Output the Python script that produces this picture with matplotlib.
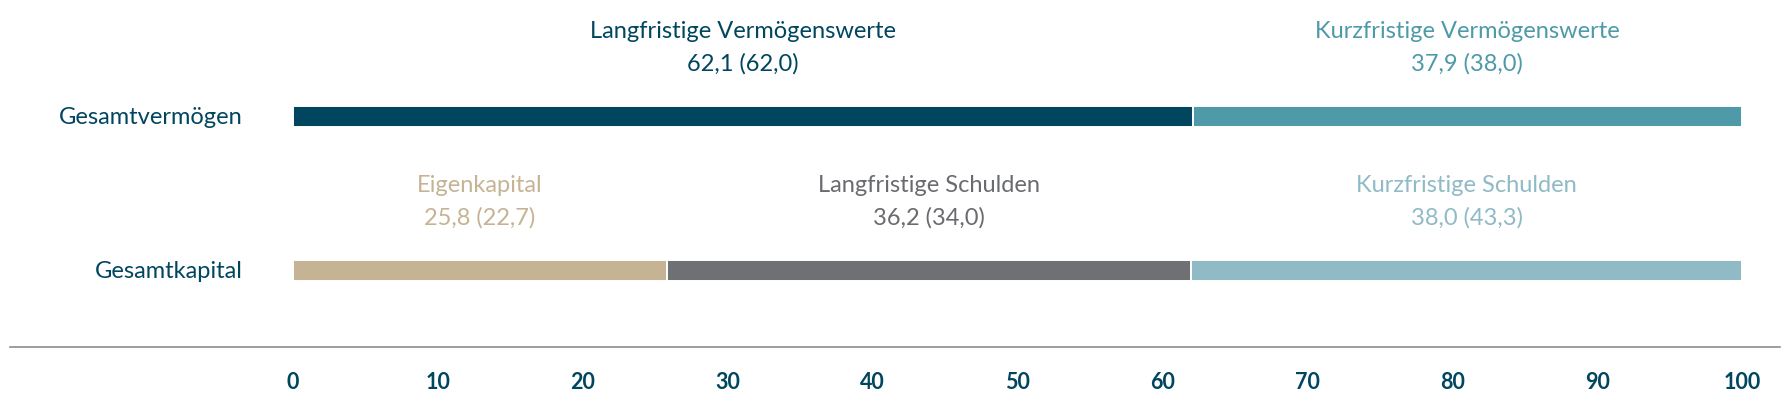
import matplotlib
matplotlib.use("Agg")
import matplotlib.pyplot as plt
from matplotlib.lines import Line2D

# Bilanzstruktur in Prozent (Vorjahr in Klammern)
rows = ["Gesamtvermögen", "Gesamtkapital"]

asset_labels = ["Langfristige Vermögenswerte", "Kurzfristige Vermögenswerte"]
asset_values = [62.1, 37.9]
asset_prev = [62.0, 38.0]

capital_labels = ["Eigenkapital", "Langfristige Schulden", "Kurzfristige Schulden"]
capital_values = [25.8, 36.2, 38.0]
capital_prev = [22.7, 34.0, 43.3]

x_ticks = [0, 10, 20, 30, 40, 50, 60, 70, 80, 90, 100]

NAVY = "#00465F"
asset_colors = ["#00465F", "#4E9AA8"]
capital_colors = ["#C5B394", "#6F7074", "#8FBAC6"]
capital_text_colors = ["#C5B394", "#6A6B6F", "#8FBAC6"]

plt.rcParams["font.family"] = ["Lato", "DejaVu Sans"]


def fmt(v):
    return f"{v:.1f}".replace(".", ",")


W, H = 1790, 410
fig = plt.figure(figsize=(W / 100, H / 100), dpi=100)
fig.patch.set_facecolor("white")

# axes from x=0 (px 293) to x=100 (px 1742), bottom at the axis line
ax = fig.add_axes([293 / W, (H - 348) / H, (1742 - 293) / W, 348 / H])
ax.set_xlim(0, 100)
ax.set_ylim(1.497, -0.763)


def draw_row(row, values, prev, labels, colors, text_colors):
    left = 0
    for val, pv, lab, col, tcol in zip(values, prev, labels, colors, text_colors):
        ax.barh(row, val, left=left, height=0.136, color=col,
                edgecolor="white", linewidth=1.4)
        cx = left + val / 2
        ax.text(cx, row - 0.513, lab, ha="center", va="baseline",
                fontsize=17, color=tcol)
        ax.text(cx, row - 0.305, f"{fmt(val)} ({fmt(pv)})", ha="center",
                va="baseline", fontsize=17, color=tcol)
        left += val


draw_row(0, asset_values, asset_prev, asset_labels, asset_colors, asset_colors)
draw_row(1, capital_values, capital_prev, capital_labels, capital_colors,
         capital_text_colors)

# row labels, right aligned left of the bars
for i, name in enumerate(rows):
    ax.text(-3.45, i, name, ha="right", va="center", fontsize=17, color=NAVY)

for s in ax.spines.values():
    s.set_visible(False)
ax.set_yticks([])
ax.set_xticks(x_ticks)
ax.set_xticklabels([str(t) for t in x_ticks])
ax.tick_params(axis="x", length=0, pad=17, labelsize=15.5, labelcolor=NAVY)
for lbl in ax.get_xticklabels():
    lbl.set_fontweight("bold")

# grey base line spanning almost the whole width
fig.add_artist(Line2D([10 / W, 1780 / W], [(H - 348) / H] * 2,
                      color="#8C8C8C", linewidth=1.2))

fig.savefig("out.png", dpi=100, facecolor="white")
